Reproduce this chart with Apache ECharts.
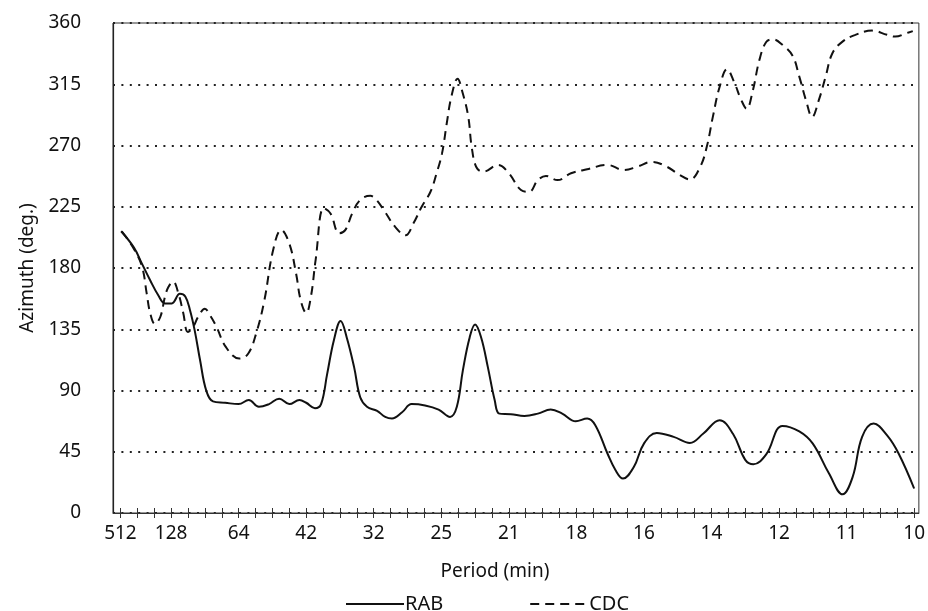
<!DOCTYPE html>
<html>
<head>
<meta charset="utf-8">
<script src="https://cdn.jsdelivr.net/npm/echarts@6/dist/echarts.min.js"></script>
<style>
  html, body { margin: 0; padding: 0; background: #fff; }
  #chart { width: 928px; height: 611px; }
</style>
</head>
<body>
<div id="chart"></div>
<script>
// x is in frequency steps of 1/128 cycles per minute; labels show the period
const periodLabels = ['512', '128', '64', '42', '32', '25', '21', '18', '16', '14', '12', '11', '10'];
const labelSteps = [0.25, 1, 2, 3, 4, 5, 6, 7, 8, 9, 10, 11, 12];
const azimuthTicks = [0, 45, 90, 135, 180, 225, 270, 315, 360];

const rabX = [0.26, 0.45, 0.57, 0.69, 0.81, 0.91, 1.01, 1.13, 1.21, 1.28, 1.35, 1.43, 1.52, 1.62, 1.80, 2.00,
  2.15, 2.30, 2.45, 2.60, 2.75, 2.90, 3.00, 3.13, 3.22, 3.31, 3.41, 3.51, 3.60, 3.71, 3.80, 3.90, 4.05, 4.17,
  4.27, 4.42, 4.56, 4.76, 4.96, 5.13, 5.23, 5.32, 5.42, 5.50, 5.59, 5.69, 5.79, 5.86, 6.03, 6.23, 6.43, 6.62,
  6.79, 6.99, 7.16, 7.28, 7.46, 7.58, 7.69, 7.85, 8.00, 8.19, 8.44, 8.68, 8.88, 9.12, 9.32, 9.50, 9.62, 9.81,
  10.05, 10.30, 10.50, 10.74, 10.94, 11.09, 11.23, 11.40, 11.60, 11.77, 12.0];
const rabY = [207, 195, 183, 171, 160, 154, 154, 161, 159, 149, 134, 112, 90, 82, 81, 80,
  83, 78, 80, 84, 80, 83, 81, 77, 80, 102, 127, 141, 129, 107, 85, 78, 75, 70.6,
  69.4, 74, 80, 79, 76, 70.6, 78, 105, 129, 138.5, 129, 107, 83, 73, 72.6, 71.3, 73, 76,
  73, 67.4, 69.4, 64.5, 43.7, 31.4, 25.3, 33.8, 51, 58.8, 55.9, 51.5, 58.4, 68.2, 58, 39, 35.8, 43,
  64, 60, 51, 29, 13.7, 26.5, 56, 65.7, 57, 43.7, 18];

const cdcX = [0.27, 0.45, 0.57, 0.64, 0.69, 0.76, 0.84, 0.91, 0.96, 1.03, 1.11, 1.18, 1.25, 1.33, 1.40, 1.50,
  1.58, 1.67, 1.81, 2.01, 2.14, 2.26, 2.38, 2.51, 2.63, 2.75, 2.85, 2.92, 3.00, 3.07, 3.14, 3.26, 3.36, 3.49,
  3.58, 3.68, 3.80, 3.95, 4.04, 4.17, 4.32, 4.47, 4.59, 4.71, 4.84, 4.93, 5.01, 5.08, 5.15, 5.24, 5.32, 5.40,
  5.45, 5.52, 5.62, 5.84, 6.00, 6.18, 6.30, 6.43, 6.55, 6.72, 6.92, 7.16, 7.46, 7.70, 7.90, 8.12, 8.34, 8.53,
  8.68, 8.83, 8.93, 9.02, 9.12, 9.23, 9.34, 9.44, 9.52, 9.61, 9.71, 9.81, 9.91, 10.05, 10.20, 10.30, 10.40,
  10.49, 10.59, 10.69, 10.79, 10.94, 11.13, 11.38, 11.60, 11.72, 11.89, 11.98];
const cdcY = [207, 194, 181, 161, 147, 139, 144, 159, 166, 170, 161, 147, 133, 137, 144, 150,
  145, 137, 122, 113.5, 117, 132, 156, 193, 208, 198, 176, 156, 147, 159, 186, 224, 220, 205.5,
  208, 220, 230, 233, 230, 221, 210, 204, 213, 225, 236, 249.5, 264, 286, 306, 319, 308, 291,
  269, 254, 250.7, 255.7, 249.6, 237.3, 236, 244.6, 247.6, 244.6, 249.6, 252.5, 255.7, 252, 254.4, 258, 254.4, 248.3,
  245, 254, 269, 291, 313, 326, 316, 303.5, 297, 310, 333, 346, 348, 344, 336, 320.6, 303,
  291, 303.5, 320.6, 337.8, 346.3, 351.3, 354.4, 351.3, 350, 352.6, 354];

const font = '"Noto Sans", "DejaVu Sans", sans-serif';
const ink = '#111';

// minor ticks every quarter step
const tickSteps = [];
for (let i = 1; i <= 48; i++) tickSteps.push(i / 4);

const xMin = 0.14;
const xMax = 12.07;

const chart = echarts.init(document.getElementById('chart'), null, { renderer: 'canvas' });
chart.setOption({
  animation: false,
  backgroundColor: '#fff',
  grid: {
    left: 113, right: 5, top: 23, bottom: 98,
    show: true, borderColor: '#333', borderWidth: 1, backgroundColor: 'transparent'
  },
  legend: {
    left: 340, top: 589,
    itemWidth: 58, itemHeight: 14, itemGap: 86,
    itemStyle: { opacity: 0 },
    textStyle: { fontFamily: font, fontSize: 20, color: ink, padding: [0, 0, 0, -4] },
    data: ['RAB', 'CDC']
  },
  xAxis: [{
    type: 'value', min: xMin, max: xMax,
    name: 'Period (min)', nameLocation: 'middle', nameGap: 49,
    nameTextStyle: { fontFamily: font, fontSize: 19, color: ink, padding: [0, 42, 0, 0] },
    axisLine: { show: true, lineStyle: { color: '#333', width: 1 } },
    axisTick: { show: true, inside: false, length: 5, customValues: tickSteps, lineStyle: { color: '#333' } },
    axisLabel: {
      customValues: labelSteps, margin: 11,
      fontFamily: font, fontSize: 19, color: ink,
      formatter: v => {
        const i = labelSteps.findIndex(s => Math.abs(s - v) < 1e-6);
        return i >= 0 ? periodLabels[i] : '';
      }
    },
    splitLine: { show: false }
  }, {
    type: 'value', min: xMin, max: xMax, position: 'bottom',
    axisLine: { show: false },
    axisTick: { show: true, inside: true, length: 5, customValues: tickSteps, lineStyle: { color: '#333' } },
    axisLabel: { show: false },
    splitLine: { show: false }
  }],
  yAxis: {
    type: 'value', min: 0, max: 360, interval: 45,
    name: 'Azimuth (deg.)', nameLocation: 'middle', nameGap: 76,
    nameTextStyle: { fontFamily: font, fontSize: 19, color: ink },
    axisLine: { show: true, lineStyle: { color: '#222', width: 1.2 } },
    axisTick: { show: false },
    axisLabel: {
      margin: 32, fontFamily: font, fontSize: 19, color: ink,
      customValues: azimuthTicks
    },
    splitLine: { show: true, lineStyle: { color: '#222', width: 2, type: [2, 6.4] } }
  },
  series: [{
    name: 'RAB', type: 'line', symbol: 'none', smooth: 0.4,
    lineStyle: { color: ink, width: 2 },
    itemStyle: { color: ink },
    data: rabX.map((x, i) => [x, rabY[i]])
  }, {
    name: 'CDC', type: 'line', symbol: 'none', smooth: 0.4,
    lineStyle: { color: ink, width: 2, type: [9, 6] },
    itemStyle: { color: ink },
    data: cdcX.map((x, i) => [x, cdcY[i]])
  }]
});
</script>
</body>
</html>
